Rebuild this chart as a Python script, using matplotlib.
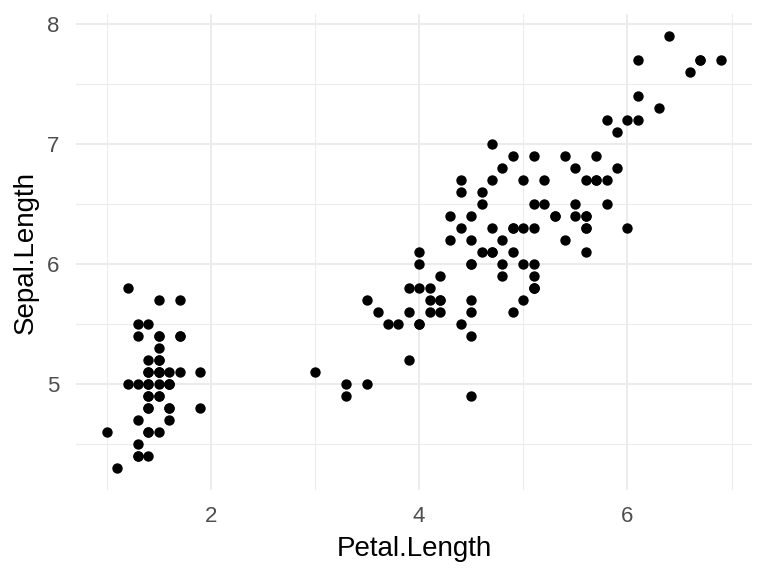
import matplotlib
matplotlib.use("Agg")
import matplotlib.pyplot as plt
from matplotlib.ticker import MultipleLocator

# iris: Petal.Length vs Sepal.Length
petal_length = [
    1.4, 1.4, 1.3, 1.5, 1.4, 1.7, 1.4, 1.5, 1.4, 1.5, 1.5, 1.6, 1.4, 1.1, 1.2, 1.5, 1.3, 1.4, 1.7, 1.5,
    1.7, 1.5, 1.0, 1.7, 1.9, 1.6, 1.6, 1.5, 1.4, 1.6, 1.6, 1.5, 1.5, 1.4, 1.5, 1.2, 1.3, 1.4, 1.3, 1.5,
    1.3, 1.3, 1.3, 1.6, 1.9, 1.4, 1.6, 1.4, 1.5, 1.4,
    4.7, 4.5, 4.9, 4.0, 4.6, 4.5, 4.7, 3.3, 4.6, 3.9, 3.5, 4.2, 4.0, 4.7, 3.6, 4.4, 4.5, 4.1, 4.5, 3.9,
    4.8, 4.0, 4.9, 4.7, 4.3, 4.4, 4.8, 5.0, 4.5, 3.5, 3.8, 3.7, 3.9, 5.1, 4.5, 4.5, 4.7, 4.4, 4.1, 4.0,
    4.4, 4.6, 4.0, 3.3, 4.2, 4.2, 4.2, 4.3, 3.0, 4.1,
    6.0, 5.1, 5.9, 5.6, 5.8, 6.6, 4.5, 6.3, 5.8, 6.1, 5.1, 5.3, 5.5, 5.0, 5.1, 5.3, 5.5, 6.7, 6.9, 5.0,
    5.7, 4.9, 6.7, 4.9, 5.7, 6.0, 4.8, 4.9, 5.6, 5.8, 6.1, 6.4, 5.6, 5.1, 5.6, 6.1, 5.6, 5.5, 4.8, 5.4,
    5.6, 5.1, 5.1, 5.9, 5.7, 5.2, 5.0, 5.2, 5.4, 5.1,
]
sepal_length = [
    5.1, 4.9, 4.7, 4.6, 5.0, 5.4, 4.6, 5.0, 4.4, 4.9, 5.4, 4.8, 4.8, 4.3, 5.8, 5.7, 5.4, 5.1, 5.7, 5.1,
    5.4, 5.1, 4.6, 5.1, 4.8, 5.0, 5.0, 5.2, 5.2, 4.7, 4.8, 5.4, 5.2, 5.5, 4.9, 5.0, 5.5, 4.9, 4.4, 5.1,
    5.0, 4.5, 4.4, 5.0, 5.1, 4.8, 5.1, 4.6, 5.3, 5.0,
    7.0, 6.4, 6.9, 5.5, 6.5, 5.7, 6.3, 4.9, 6.6, 5.2, 5.0, 5.9, 6.0, 6.1, 5.6, 6.7, 5.6, 5.8, 6.2, 5.6,
    5.9, 6.1, 6.3, 6.1, 6.4, 6.6, 6.8, 6.7, 6.0, 5.7, 5.5, 5.5, 5.8, 6.0, 5.4, 6.0, 6.7, 6.3, 5.6, 5.5,
    5.5, 6.1, 5.8, 5.0, 5.6, 5.7, 5.7, 6.2, 5.1, 5.7,
    6.3, 5.8, 7.1, 6.3, 6.5, 7.6, 4.9, 7.3, 6.7, 7.2, 6.5, 6.4, 6.8, 5.7, 5.8, 6.4, 6.5, 7.7, 7.7, 6.0,
    6.9, 5.6, 7.7, 6.3, 6.7, 7.2, 6.2, 6.1, 6.4, 7.2, 7.4, 7.9, 6.4, 6.3, 6.1, 7.7, 6.3, 6.4, 6.0, 6.9,
    6.7, 6.9, 5.8, 6.8, 6.7, 6.7, 6.3, 6.5, 6.2, 5.9,
]

plt.rcParams['font.family'] = ['Liberation Sans', 'DejaVu Sans']

fig = plt.figure(figsize=(7.68, 5.76), dpi=100)
ax = fig.add_axes([0.099, 0.15, 0.88, 0.825])

ax.scatter(petal_length, sepal_length, s=56, c='black', linewidths=0, zorder=3)

# ggplot-style 5% expansion
xmin, xmax = min(petal_length), max(petal_length)
ymin, ymax = min(sepal_length), max(sepal_length)
xpad = (xmax - xmin) * 0.05
ypad = (ymax - ymin) * 0.05
ax.set_xlim(xmin - xpad, xmax + xpad)
ax.set_ylim(ymin - ypad, ymax + ypad)

ax.xaxis.set_major_locator(MultipleLocator(2))
ax.xaxis.set_minor_locator(MultipleLocator(1))
ax.yaxis.set_major_locator(MultipleLocator(1))
ax.yaxis.set_minor_locator(MultipleLocator(0.5))

ax.grid(which='major', color='#EBEBEB', linewidth=1.5)
ax.grid(which='minor', color='#EBEBEB', linewidth=0.75)
ax.set_axisbelow(True)

for s in ax.spines.values():
    s.set_visible(False)
ax.tick_params(which='both', length=0)
ax.tick_params(axis='x', labelsize=16, labelcolor='#4D4D4D', pad=12)
ax.tick_params(axis='y', labelsize=16, labelcolor='#4D4D4D', pad=12)

ax.set_xlabel('Petal.Length', fontsize=20, labelpad=6)
ax.set_ylabel('Sepal.Length', fontsize=20, labelpad=6)

fig.savefig('out.png', dpi=100, facecolor='white')
